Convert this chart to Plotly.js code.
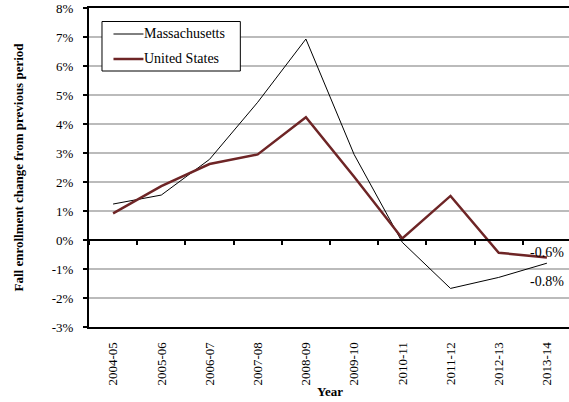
<!DOCTYPE html>
<html>
<head>
<meta charset="utf-8">
<script src="https://cdn.plot.ly/plotly-3.0.1.min.js"></script>
<style>
html,body{margin:0;padding:0;overflow:hidden;background:#fff;}
#chart{width:571px;height:402px;}
</style>
</head>
<body>
<div id="chart"></div>
<script>
const years = ["2004-05","2005-06","2006-07","2007-08","2008-09","2009-10","2010-11","2011-12","2012-13","2013-14"];
const seriesNames = ["Massachusetts", "United States"];
const massachusetts = [1.24, 1.55, 2.78, 4.75, 6.93, 2.95, -0.08, -1.67, -1.29, -0.80];
const unitedStates = [0.92, 1.86, 2.62, 2.95, 4.23, 2.18, 0.05, 1.52, -0.44, -0.60];
const yTickVals = [-3,-2,-1,0,1,2,3,4,5,6,7,8];
const yTickText = yTickVals.map(v => v + "%");
const lastLabelMA = "-0.8%";
const lastLabelUS = "-0.6%";

const FONT = "Times New Roman";
const lastIdx = years.length - 1;
const colors = ["#000000", "#6E2526"];
const widths = [1, 2.5];

// plot area in pixels (for placing the legend box)
const W = 571, H = 402, ML = 88.5, MR = 0, MT = 8, MB = 75;
const PW = W - ML - MR, PH = H - MT - MB;
const px = v => (v - ML) / PW;
const py = v => (H - MB - v) / PH;

const traces = [
  {x: years, y: massachusetts, type: "scatter", mode: "lines", name: seriesNames[0],
   line: {color: colors[0], width: widths[0]}, hoverinfo: "skip", showlegend: false},
  {x: years, y: unitedStates, type: "scatter", mode: "lines", name: seriesNames[1],
   line: {color: colors[1], width: widths[1]}, hoverinfo: "skip", showlegend: false},
  {x: years, y: years.map(() => null), xaxis: "x2", type: "scatter", mode: "lines",
   showlegend: false, hoverinfo: "skip"}
];

const legendRows = [34, 59];
const shapes = [
  {type: "rect", xref: "paper", yref: "paper", x0: px(101.5), x1: px(240), y0: py(71), y1: py(21.5),
   line: {color: "#000", width: 1}, fillcolor: "#fff", layer: "above"}
];
const annotations = [
  {x: years[lastIdx], y: unitedStates[lastIdx], xref: "x", yref: "y",
   text: lastLabelUS, showarrow: false, yshift: 5,
   font: {family: FONT, size: 14, color: "#000"}},
  {x: years[lastIdx], y: massachusetts[lastIdx], xref: "x", yref: "y",
   text: lastLabelMA, showarrow: false, yshift: -18,
   font: {family: FONT, size: 14, color: "#000"}}
];
seriesNames.forEach((name, i) => {
  shapes.push({type: "line", xref: "paper", yref: "paper",
    x0: px(113), x1: px(143), y0: py(legendRows[i]), y1: py(legendRows[i]),
    line: {color: colors[i], width: widths[i]}, layer: "above"});
  annotations.push({xref: "paper", yref: "paper", x: px(141.5), y: py(legendRows[i]),
    xanchor: "left", yanchor: "middle", text: name, showarrow: false,
    font: {family: FONT, size: 14, color: "#000"}});
});

const layout = {
  width: W, height: H,
  margin: {l: ML, r: MR, t: MT, b: MB},
  paper_bgcolor: "#fff", plot_bgcolor: "#fff",
  font: {family: FONT, size: 13, color: "#000"},
  showlegend: false,
  xaxis: {type: "category", categoryorder: "array", categoryarray: years,
    range: [-0.5, years.length - 0.5], showgrid: false, zeroline: false,
    showline: true, linecolor: "#000", linewidth: 2, mirror: true,
    ticks: "outside", ticklen: 8, tickcolor: "rgba(0,0,0,0)", tickangle: -90,
    tickfont: {family: FONT, size: 13, color: "#000"},
    title: {text: "<b>Year</b>", font: {family: FONT, size: 13, color: "#000"}, standoff: 2}},
  xaxis2: {type: "category", categoryorder: "array", categoryarray: years,
    overlaying: "x", anchor: "free", position: 3/11,
    range: [-0.5, years.length - 0.5], showgrid: false, zeroline: false,
    showline: true, linecolor: "#000", linewidth: 2,
    ticks: "outside", tickson: "boundaries", ticklen: 4, tickwidth: 2, tickcolor: "#000",
    showticklabels: false},
  yaxis: {range: [-3, 8], tickvals: yTickVals, ticktext: yTickText,
    showgrid: true, gridcolor: "#BBBBBB", gridwidth: 1.5, zeroline: false,
    showline: true, linecolor: "#000", linewidth: 2,
    ticks: "outside", ticklen: 4, tickwidth: 1.5, tickcolor: "#000",
    ticklabelstandoff: 7,
    tickfont: {family: FONT, size: 13, color: "#000"},
    title: {text: "<b>Fall enrollment change from previous period</b>",
      font: {family: FONT, size: 13, color: "#000"}, standoff: 25}},
  shapes: shapes,
  annotations: annotations
};

Plotly.newPlot("chart", traces, layout, {staticPlot: true, displayModeBar: false});
</script>
</body>
</html>
